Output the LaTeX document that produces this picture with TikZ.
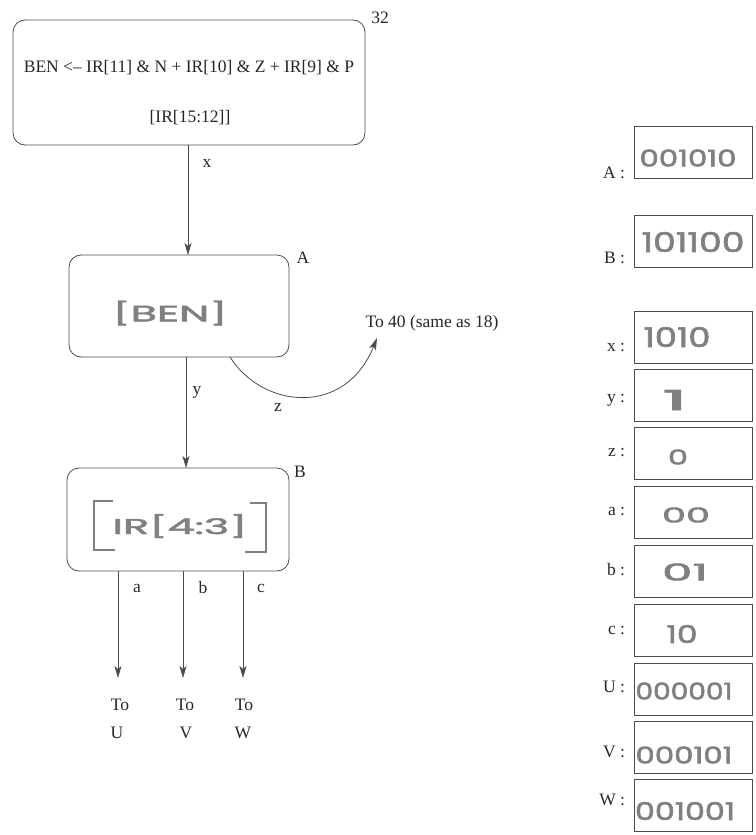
\documentclass[tikz,border=0pt]{standalone}
\usepackage{fontspec}
\setmainfont{Liberation Serif}
\newfontfamily\hwfont[FakeBold=2]{Poppins}
\usetikzlibrary{arrows.meta,calc}
\definecolor{ln}{gray}{0.3}
\definecolor{hw}{gray}{0.5}
\newcommand{\hwtext}[3]{\resizebox*{#1}{#2}{\hwfont #3}}
\begin{document}
\begin{tikzpicture}[x=1pt,y=-1pt,
  every node/.style={font=\fontsize{17.5}{21}\selectfont, inner sep=0pt, outer sep=0pt, text=black!85},
  flowbox/.style={draw=ln, line width=0.8pt, rounded corners=12pt},
  valbox/.style={draw=ln, line width=0.8pt, minimum width=118pt, minimum height=52pt},
  arr/.style={draw=ln, line width=0.8pt, -{Stealth[length=12pt,width=7pt,inset=3pt]}},
  hwn/.style={text=hw},
  lbl/.style={anchor=east},
  bracket/.style={draw=hw, line width=2.6pt}]
\useasboundingbox (0,0) rectangle (755,835);

% flow boxes
\node[flowbox, minimum width=352pt, minimum height=125pt] (top) at (189,82.5) {};
\node (t1) at (189,68) {BEN <– IR[11] \& N + IR[10] \& Z + IR[9] \& P};
\node (t2) at (190,118) {[IR[15:12]]};
\node (n32) at (380,18) {32};

\node[flowbox, minimum width=220pt, minimum height=102pt] (boxA) at (179,306) {};
\node[hwn] (ben) at (170,313) {\hwtext{115pt}{25pt}{[BEN]}};
\node (lA) at (303,258) {A};

\node[flowbox, minimum width=222pt, minimum height=103pt] (boxB) at (178,519.5) {};
\node[hwn] (ir43) at (180,526) {\hwtext{135pt}{24pt}{IR[4:3]}};
\draw[bracket] (113,501) -- (94,501) -- (94,550) -- (115,550);
\draw[bracket] (250,503) -- (266,503) -- (266,552) -- (245,552);
\node (lB) at (300,472) {B};

% connectors
\coordinate (cx) at (188,0);
\coordinate (cy) at (186,0);
\coordinate (cz) at (230,0);
\coordinate (zend) at (377,338);
\draw[arr] (top.south -| cx) -- (boxA.north -| cx);
\node (lx) at (207,163) {x};
\draw[arr] (boxA.south -| cy) -- (boxB.north -| cy);
\node (ly) at (197,392) {y};
\draw[arr] (boxA.south -| cz) .. controls (262,408) and (345,418) .. (zend);
\node (lz) at (278,407) {z};
\node (to40) at (432,323) {To 40 (same as 18)};

\coordinate (ca) at (118,678);
\coordinate (cb) at (183,678);
\coordinate (cc) at (243,678);
\draw[arr] (boxB.south -| ca) -- (ca);
\draw[arr] (boxB.south -| cb) -- (cb);
\draw[arr] (boxB.south -| cc) -- (cc);
\node (la) at (137,588) {a};
\node (lb) at (203,588) {b};
\node (lc) at (261,588) {c};
\node (toU) at (120,705) {To};
\node (toV) at (185,705) {To};
\node (toW) at (244,705) {To};
\node (nU) at (117,733) {U};
\node (nV) at (186,733) {V};
\node (nW) at (243,733) {W};

% value boxes
\node[valbox] (bA) at (693,152) {};
\node[lbl] (kA) at (625,173) {A :};
\node[hwn] (vA) at (688,158) {\hwtext{97pt}{17pt}{001010}};

\node[valbox] (bB) at (693,241) {};
\node[lbl] (kB) at (625,258) {B :};
\node[hwn] (vB) at (693,242) {\hwtext{103pt}{20pt}{101100}};

\node[valbox] (bx) at (693,337) {};
\node[lbl] (kx) at (625,348) {x :};
\node[hwn] (vx) at (677,337) {\hwtext{67pt}{20pt}{1010}};

\node[valbox] (by) at (693,395) {};
\node[lbl] (ky) at (625,400) {y :};
\node[hwn] (vy) at (675,400) {\hwtext{26pt}{20pt}{1}};

\node[valbox] (bz) at (693,453.5) {};
\node[lbl] (kz) at (625,453) {z :};
\node[hwn] (vz) at (678,457) {\hwtext{20pt}{15pt}{0}};

\node[valbox] (ba) at (693,512.5) {};
\node[lbl] (ka) at (625,512) {a :};
\node[hwn] (va) at (686,515) {\hwtext{48pt}{15pt}{00}};

\node[valbox] (bb) at (693,571) {};
\node[lbl] (kb) at (625,570) {b :};
\node[hwn] (vb) at (685,572) {\hwtext{46pt}{17pt}{01}};

\node[valbox] (bc) at (693,630) {};
\node[lbl] (kc) at (625,630) {c :};
\node[hwn] (vc) at (682,634) {\hwtext{31pt}{18pt}{10}};

\node[valbox] (bU) at (693,689) {};
\node[lbl] (kU) at (625,687) {U :};
\node[hwn] (vU) at (684,691) {\hwtext{97pt}{17pt}{000001}};

\node[valbox] (bV) at (693,747.5) {};
\node[lbl] (kV) at (625,752) {V :};
\node[hwn] (vV) at (684,755) {\hwtext{97pt}{17pt}{000101}};

\node[valbox] (bW) at (693,805.5) {};
\node[lbl] (kW) at (625,800) {W :};
\node[hwn] (vW) at (685,811) {\hwtext{100pt}{18pt}{001001}};
\end{tikzpicture}
\end{document}
